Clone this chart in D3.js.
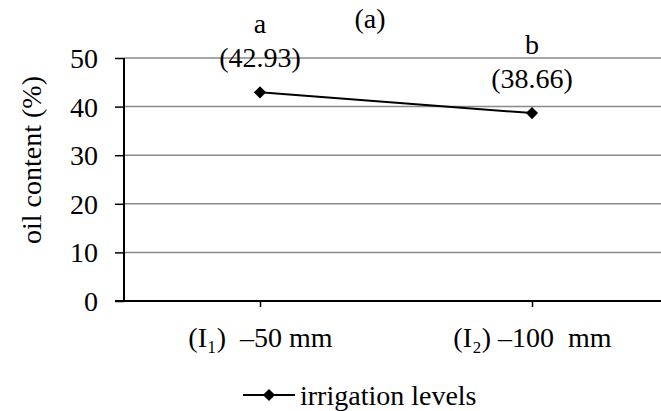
<!DOCTYPE html>
<html>
<head>
<meta charset="utf-8">
<script src="https://cdn.jsdelivr.net/npm/d3@7"></script>
<style>
	body { margin: 0; background: #fff; }
	svg text { white-space: pre; fill: #000; }
</style>
</head>
<body>
<div id="chart"></div>
<script>
const categories = ["(I\u2081)  \u201350 mm", "(I\u2082) \u2013100  mm"];
const oilContent = [42.93, 38.66];
const letters = ["a", "b"];
const yTickValues = [0, 10, 20, 30, 40, 50];
const seriesName = "irrigation levels";
const chartTitle = "(a)";
const yLabel = "oil content (%)";

const width = 661;
const height = 411;
const fontSize = 28;

const svg = d3
	.select("#chart")
	.append("svg")
	.attr("width", width)
	.attr("height", height)
	.attr("font-family", "'Liberation Serif', 'Times New Roman', serif")
	.attr("font-size", fontSize);

const xScale = d3.scalePoint().domain(categories).range([124, 668]).padding(0.5);
const yScale = d3.scaleLinear().domain([0, 50]).range([301, 58]);

// grid lines
svg.append("g")
	.selectAll("line")
	.data(yTickValues.filter((d) => d > 0))
	.join("line")
	.attr("x1", 124)
	.attr("x2", width)
	.attr("y1", (d) => yScale(d))
	.attr("y2", (d) => yScale(d))
	.attr("stroke", "#898989")
	.attr("stroke-width", 1.5);

// y axis
const yAxis = d3.axisLeft(yScale).tickValues(yTickValues).tickSize(9).tickPadding(17);
const yG = svg.append("g").attr("transform", "translate(124,0)").call(yAxis);
yG.attr("font-family", null).attr("font-size", null);
yG.select(".domain").remove();
yG.append("line").attr("y1", 58).attr("y2", 302).attr("stroke", "#000").attr("stroke-width", 2);
yG.selectAll(".tick line").attr("stroke", "#000").attr("stroke-width", 1.5);
yG.selectAll(".tick text").attr("fill", "#000").attr("dy", "0.34em");

// x axis
const xAxis = d3.axisBottom(xScale).tickSize(6);
const xG = svg.append("g").attr("transform", "translate(0,301)").call(xAxis);
xG.attr("font-family", null).attr("font-size", null);
xG.select(".domain").remove();
xG.append("line").attr("x1", 115).attr("x2", width).attr("stroke", "#000").attr("stroke-width", 2);
xG.selectAll(".tick line").attr("stroke", "#000").attr("stroke-width", 1.5);
xG.selectAll(".tick text")
	.attr("fill", "#000")
	.attr("dy", null)
	.attr("y", 46);

// series line
const line = d3.line()
	.x((d, i) => xScale(categories[i]))
	.y((d) => yScale(d));

svg.append("path")
	.datum(oilContent)
	.attr("d", line)
	.attr("fill", "none")
	.attr("stroke", "#000")
	.attr("stroke-width", 2);

const diamond = d3.symbol().type(d3.symbolDiamond2).size(95);
svg.append("g")
	.selectAll("path")
	.data(oilContent)
	.join("path")
	.attr("d", diamond)
	.attr("transform", (d, i) => `translate(${xScale(categories[i])},${yScale(d)})`)
	.attr("fill", "#000");

// point labels
const labels = svg.append("g").attr("text-anchor", "middle");
labels.selectAll("text.letter")
	.data(oilContent)
	.join("text")
	.attr("class", "letter")
	.attr("x", (d, i) => xScale(categories[i]))
	.attr("y", (d) => yScale(d) - 59)
	.text((d, i) => letters[i]);
labels.selectAll("text.value")
	.data(oilContent)
	.join("text")
	.attr("class", "value")
	.attr("x", (d, i) => xScale(categories[i]))
	.attr("y", (d) => yScale(d) - 25)
	.text((d) => `(${d.toFixed(2)})`);

// title
svg.append("text")
	.attr("x", 370)
	.attr("y", 28)
	.attr("text-anchor", "middle")
	.text(chartTitle);

// y label
svg.append("text")
	.attr("transform", "translate(41,160) rotate(-90)")
	.attr("text-anchor", "middle")
	.text(yLabel);

// legend
const legend = svg.append("g").attr("transform", "translate(243,395)");
legend.append("line").attr("x1", 0).attr("x2", 52).attr("stroke", "#000").attr("stroke-width", 2);
legend.append("path").attr("d", diamond).attr("transform", "translate(26,0)").attr("fill", "#000");
legend.append("text")
	.attr("x", 57)
	.attr("y", 10)
	.text(seriesName);
</script>
</body>
</html>
